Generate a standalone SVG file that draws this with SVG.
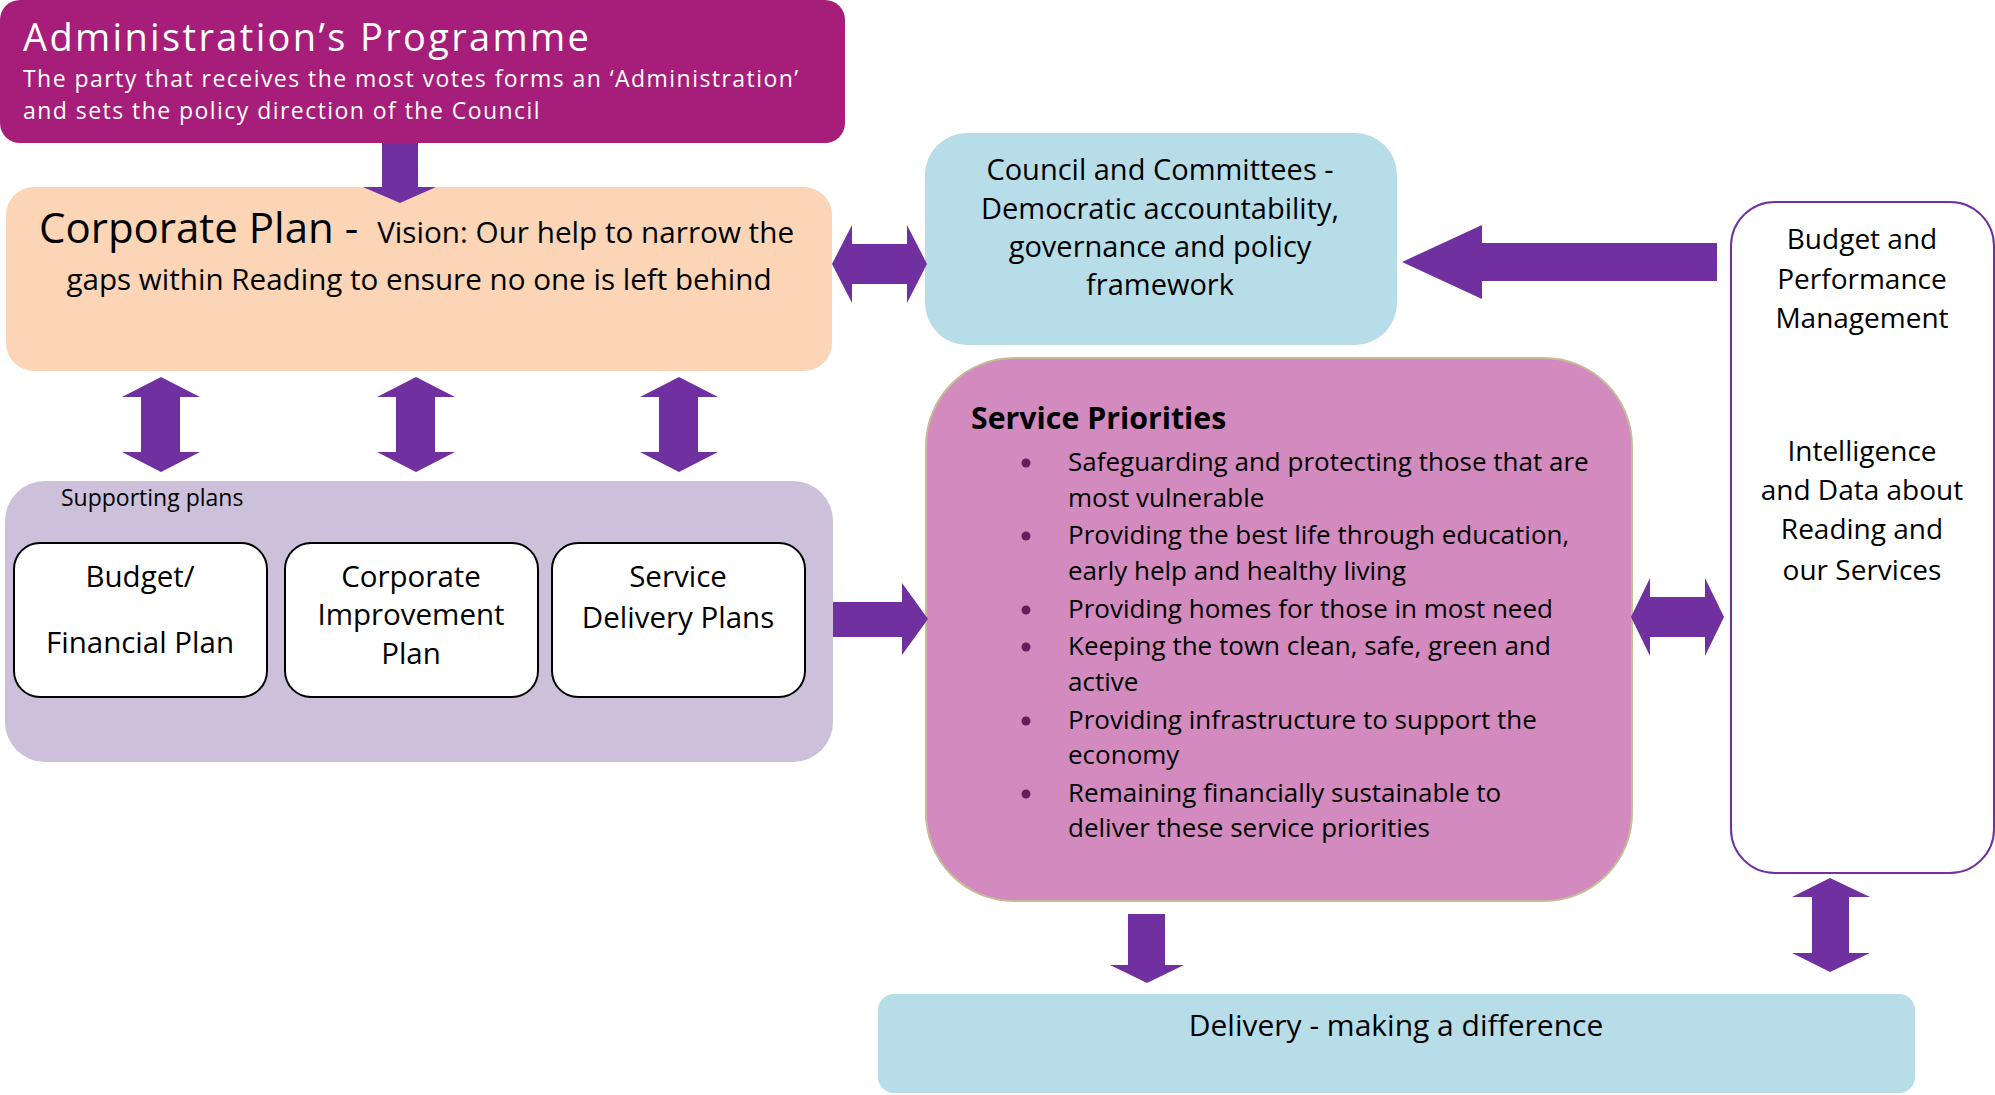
<svg xmlns="http://www.w3.org/2000/svg" width="1995" height="1095" viewBox="0 0 1995 1095">
  <style>
    text { font-family: "Open Sans", "DejaVu Sans", sans-serif; fill: #000; }
    .arrow { fill: #7030A0; }
    .mid { text-anchor: middle; }
    .t28 { font-size: 28px; }
    .t29 { font-size: 29px; }
    .tbox { font-size: 29.5px; }
    .t26 { font-size: 26px; }
    .inner { fill: #FFFFFF; stroke: #000; stroke-width: 2; }
    .dot { fill: #6A1B5E; }
    .light { fill: #FFFFFF; }
  </style>

  <!-- Administration's Programme -->
  <g id="admin">
    <rect x="0" y="0" width="845" height="143" rx="20" fill="#A61E7A"/>
    <text class="light" x="23" y="51" font-size="38" letter-spacing="2.35">Administration’s Programme</text>
    <text class="light" x="23" y="87" font-size="23" letter-spacing="1.45">The party that receives the most votes forms an ‘Administration’</text>
    <text class="light" x="23" y="118.5" font-size="23" letter-spacing="1.45">and sets the policy direction of the Council</text>
  </g>

  <!-- Corporate Plan -->
  <g id="corporate-plan">
    <rect x="6" y="187" width="826" height="184" rx="28" fill="#FBD5B5"/>
    <text x="39" y="243"><tspan font-size="42">Corporate Plan - </tspan><tspan dx="8" font-size="29.7">Vision: Our help to narrow the</tspan></text>
    <text class="mid" font-size="29.6" x="419" y="290">gaps within Reading to ensure no one is left behind</text>
  </g>

  <!-- Council and Committees -->
  <g id="council">
    <rect x="925" y="133" width="472" height="212" rx="42" fill="#B7DDE8"/>
    <text class="mid t29" x="1160" y="180">Council and Committees -</text>
    <text class="mid t29" x="1160" y="219">Democratic accountability,</text>
    <text class="mid t29" x="1160" y="257">governance and policy</text>
    <text class="mid t29" x="1160" y="295">framework</text>
  </g>

  <!-- Budget and Performance Management -->
  <g id="budget-performance">
    <rect x="1731" y="202" width="263" height="671" rx="44" fill="#FFFFFF" stroke="#7030A0" stroke-width="2"/>
    <text class="mid t28" x="1862" y="249">Budget and</text>
    <text class="mid t28" x="1862" y="289">Performance</text>
    <text class="mid t28" x="1862" y="328">Management</text>
    <text class="mid t28" x="1862" y="461">Intelligence</text>
    <text class="mid t28" x="1862" y="500">and Data about</text>
    <text class="mid t28" x="1862" y="539">Reading and</text>
    <text class="mid t28" x="1862" y="580">our Services</text>
  </g>

  <!-- Supporting plans -->
  <g id="supporting-plans">
    <rect x="5" y="481" width="828" height="281" rx="40" fill="#CCC0DA"/>
    <text x="61" y="506" font-size="23">Supporting plans</text>
  </g>

  <g id="budget-financial-plan">
    <rect class="inner" x="14" y="543" width="253" height="154" rx="26"/>
    <text class="mid tbox" x="140" y="587">Budget/</text>
    <text class="mid tbox" x="140" y="653">Financial Plan</text>
  </g>

  <g id="corporate-improvement-plan">
    <rect class="inner" x="285" y="543" width="253" height="154" rx="26"/>
    <text class="mid tbox" x="411" y="587">Corporate</text>
    <text class="mid tbox" x="411" y="625">Improvement</text>
    <text class="mid tbox" x="411" y="664">Plan</text>
  </g>

  <g id="service-delivery-plans">
    <rect class="inner" x="552" y="543" width="253" height="154" rx="26"/>
    <text class="mid tbox" x="678" y="587">Service</text>
    <text class="mid tbox" x="678" y="628">Delivery Plans</text>
  </g>

  <!-- Service Priorities -->
  <g id="service-priorities">
    <rect x="926" y="358" width="706" height="543" rx="88" fill="#D38ABE" stroke="#C4BD97" stroke-width="2"/>
    <text x="971" y="429" font-size="30.3" font-weight="bold">Service Priorities</text>
    <g class="t26">
      <circle class="dot" cx="1026" cy="463" r="4.5"/>
      <text x="1068" y="471">Safeguarding and protecting those that are</text>
      <text x="1068" y="507">most vulnerable</text>
      <circle class="dot" cx="1026" cy="536" r="4.5"/>
      <text x="1068" y="544">Providing the best life through education,</text>
      <text x="1068" y="580">early help and healthy living</text>
      <circle class="dot" cx="1026" cy="610" r="4.5"/>
      <text x="1068" y="618">Providing homes for those in most need</text>
      <circle class="dot" cx="1026" cy="647" r="4.5"/>
      <text x="1068" y="655">Keeping the town clean, safe, green and</text>
      <text x="1068" y="691">active</text>
      <circle class="dot" cx="1026" cy="721" r="4.5"/>
      <text x="1068" y="729">Providing infrastructure to support the</text>
      <text x="1068" y="764">economy</text>
      <circle class="dot" cx="1026" cy="794" r="4.5"/>
      <text x="1068" y="802">Remaining financially sustainable to</text>
      <text x="1068" y="837">deliver these service priorities</text>
    </g>
  </g>

  <!-- Delivery -->
  <g id="delivery">
    <rect x="878" y="994" width="1037" height="99" rx="16" fill="#B7DDE8"/>
    <text class="mid" font-size="30" x="1396" y="1036">Delivery - making a difference</text>
  </g>

  <!-- Block arrows between the boxes -->
  <g id="connectors">
    <!-- Administration down to Corporate Plan -->
    <polygon class="arrow" points="382,143 418,143 418,187 436,187 400,203 363,187 382,187"/>
    <!-- Corporate Plan to/from Council -->
    <polygon class="arrow" points="832,264 852,225 852,244 907,244 907,225 927,264 907,303 907,284 852,284 852,303"/>
    <!-- Budget and Performance into Council -->
    <polygon class="arrow" points="1402,262 1482,225 1482,243 1717,243 1717,281 1482,281 1482,299"/>
    <!-- Corporate Plan to/from supporting plans -->
    <polygon class="arrow" points="161,377 200,397 180,397 180,452 200,452 161,472 122,452 141,452 141,397 122,397"/>
    <polygon class="arrow" points="416,377 455,397 435,397 435,452 455,452 416,472 377,452 396,452 396,397 377,397"/>
    <polygon class="arrow" points="679,377 718,397 698,397 698,452 718,452 679,472 640,452 659,452 659,397 640,397"/>
    <!-- Supporting plans into Service Priorities -->
    <polygon class="arrow" points="833,602 902,602 902,583 928,619 902,655 902,637 833,637"/>
    <!-- Service Priorities to/from Budget and Performance -->
    <polygon class="arrow" points="1631,617 1650,578 1650,597 1705,597 1705,578 1724,617 1705,656 1705,637 1650,637 1650,656"/>
    <!-- Service Priorities down to Delivery -->
    <polygon class="arrow" points="1128,914 1165,914 1165,965 1184,965 1147,983 1110,965 1128,965"/>
    <!-- Budget and Performance to/from Delivery -->
    <polygon class="arrow" points="1830,878 1870,897 1849,897 1849,953 1870,953 1830,972 1792,953 1812,953 1812,897 1792,897"/>
  </g>
</svg>
